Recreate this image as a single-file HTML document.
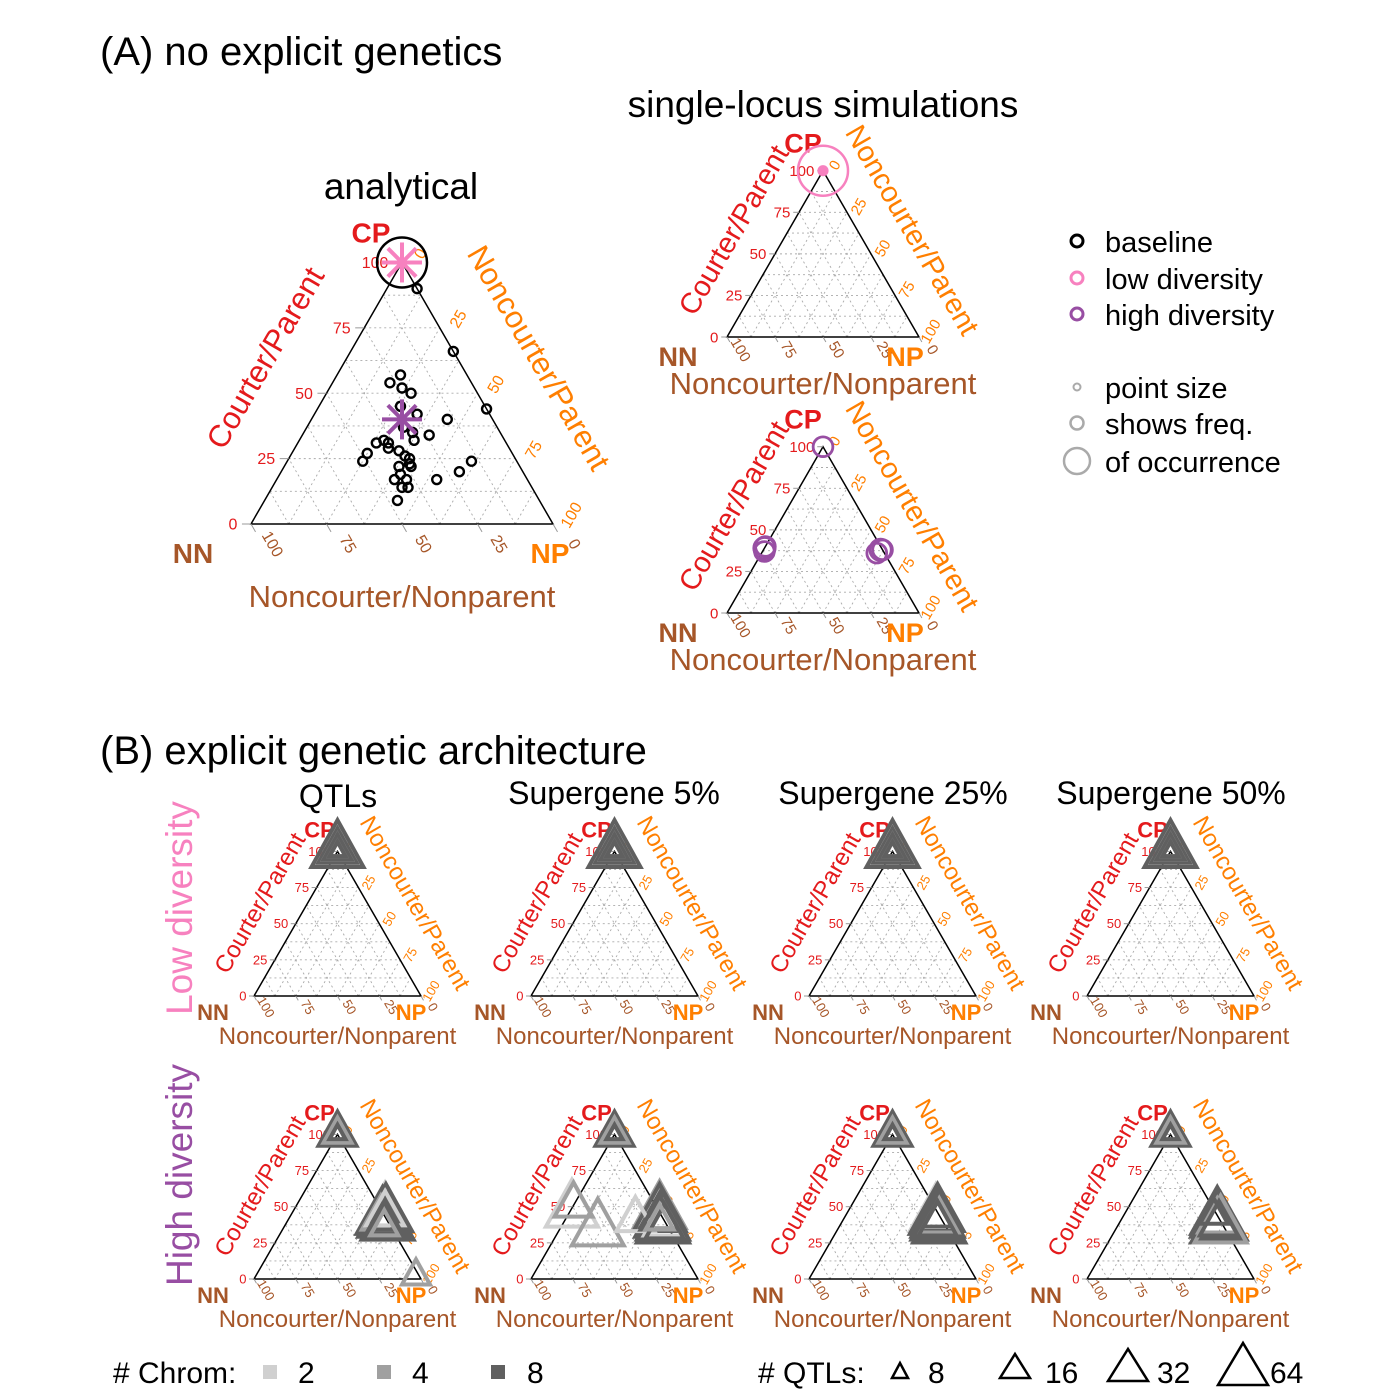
<!DOCTYPE html>
<html><head><meta charset="utf-8"><style>
html,body{margin:0;padding:0;background:#fff;}
svg{display:block;font-family:"Liberation Sans",Arial,sans-serif;}
</style></head><body>
<svg id="chart" width="1400" height="1400" viewBox="0 0 1400 1400">
<rect x="0" y="0" width="1400" height="1400" fill="#fff"/>
<text x="100" y="65" font-size="40">(A) no explicit genetics</text>
<text x="401" y="199" font-size="37" text-anchor="middle">analytical</text>
<text x="823" y="117" font-size="37" text-anchor="middle">single-locus simulations</text>
<text x="100" y="764" font-size="40">(B) explicit genetic architecture</text>
<text x="338" y="807" font-size="32" text-anchor="middle">QTLs</text>
<text x="614" y="804" font-size="32" text-anchor="middle">Supergene 5%</text>
<text x="893" y="804" font-size="32" text-anchor="middle">Supergene 25%</text>
<text x="1171" y="804" font-size="32" text-anchor="middle">Supergene 50%</text>
<text transform="translate(192,908) rotate(-90)" font-size="37" fill="#F781BF" text-anchor="middle">Low diversity</text>
<text transform="translate(192,1175) rotate(-90)" font-size="37" fill="#984EA3" text-anchor="middle">High diversity</text>

<g>
<circle cx="1077" cy="241" r="6" fill="none" stroke="#000" stroke-width="3"/>
<text x="1105" y="252" font-size="29">baseline</text>
<circle cx="1077" cy="278" r="6" fill="none" stroke="#F781BF" stroke-width="3"/>
<text x="1105" y="289" font-size="29">low diversity</text>
<circle cx="1077" cy="314" r="6" fill="none" stroke="#984EA3" stroke-width="3"/>
<text x="1105" y="325" font-size="29">high diversity</text>
<circle cx="1077" cy="387" r="3.5" fill="none" stroke="#aaa" stroke-width="2"/>
<text x="1105" y="398" font-size="29">point size</text>
<circle cx="1077" cy="423" r="6.5" fill="none" stroke="#aaa" stroke-width="2.5"/>
<text x="1105" y="434" font-size="29">shows freq.</text>
<circle cx="1077" cy="461" r="13" fill="none" stroke="#aaa" stroke-width="2.5"/>
<text x="1105" y="472" font-size="29">of occurrence</text>
</g>

<g>
<text x="113" y="1383" font-size="30"># Chrom:</text>
<rect x="263" y="1365" width="14" height="14" fill="#d0d0d0"/>
<text x="298" y="1383" font-size="30">2</text>
<rect x="377" y="1365" width="14" height="14" fill="#a0a0a0"/>
<text x="412" y="1383" font-size="30">4</text>
<rect x="491" y="1365" width="14" height="14" fill="#606060"/>
<text x="527" y="1383" font-size="30">8</text>
<text x="758" y="1383" font-size="30"># QTLs:</text>
<polygon points="892,1378 908,1378 900,1363" fill="none" stroke="#000" stroke-width="2.5"/>
<text x="928" y="1383" font-size="30">8</text>
<polygon points="1000,1378 1030,1378 1015,1354" fill="none" stroke="#000" stroke-width="2.5"/>
<text x="1045" y="1383" font-size="30">16</text>
<polygon points="1108,1381 1148,1381 1128,1349" fill="none" stroke="#000" stroke-width="2.5"/>
<text x="1157" y="1383" font-size="30">32</text>
<polygon points="1218,1385 1268,1385 1243,1343" fill="none" stroke="#000" stroke-width="2.5"/>
<text x="1270" y="1383" font-size="30">64</text>
</g>
</svg>
<script>
// ---- Data ----
const baseCP = [90,66,44,57,54,52,50,42,40,34,32,31,32,27,24,29,28,25,22,22,24,20,17,17,17,14,14,9,37,45,26,31,35,23,19];
const baseNP = [10,34,56,21,19,24,28,34,45,42,38,26,28,25,25,31,35,40,38,42,61,59,53,39,43,43,45,44,32,27,38,30,36,41,40];
const analyticalStarCP = [100, 40];
const analyticalStarNP = [0, 30];
const analyticalStarColor = ['#F781BF', '#984EA3'];
const lowCP = [100, 100]; const lowNP = [0, 0]; const lowFreq = [1, 0.03];
const highCP = [100, 39, 37, 40, 38, 36, 38]; const highNP = [0, 0, 1, 0, 61, 60, 62]; const highFreq = [0.3, 0.35, 0.3, 0.3, 0.35, 0.3, 0.3];
const bPanel = [], bCP = [], bNP = [], bChrom = [], bQTL = [];
function addB(p, arr){ arr.forEach(a=>{bPanel.push(p);bCP.push(a[0]);bNP.push(a[1]);bChrom.push(a[2]);bQTL.push(a[3]);}); }
const apexTop = [[100,0,8,64],[100,0,4,32],[100,0,8,32],[100,0,2,16],[100,0,8,16],[100,0,4,8],[100,0,8,8]];
const apexLow = [[100,0,8,32],[100,0,4,16],[100,0,8,8]];
[0,1,2,3].forEach(p=>addB(p, apexTop));
addB(4, apexLow.concat([[45,56,2,64],[44,57,8,64],[40,58,8,64],[38,61,8,64],[42,56,8,64],[42,55,4,32],[38,60,8,32],[45,56,2,32],[40,58,8,16],[36,60,4,16],[38,59,8,32],[2,96,4,16]]));
addB(5, apexLow.concat([[47,1,2,64],[51,0,4,32],[34,23,4,64],[41,42,2,32],[46,54,4,64],[44,55,8,64],[40,58,8,64],[38,60,8,64],[36,61,8,64],[38,60,2,32],[42,56,8,32],[36,62,8,32],[40,57,4,16]]));
addB(6, apexLow.concat([[44,54,2,64],[42,55,8,64],[40,57,8,64],[44,55,8,64],[36,60,8,64],[38,58,8,64],[40,58,4,32],[38,58,8,32],[42,56,8,16]]));
addB(7, apexLow.concat([[40,58,8,64],[42,57,8,64],[36,60,8,64],[38,61,8,64],[36,62,4,64],[40,58,4,32],[38,60,8,32],[44,54,8,16]]));
const tickVals = [0,25,50,75,100];

const RED='#E41A1C', ORA='#FF7F00', BRN='#A65628';
const svg = document.getElementById('chart');
const NS='http://www.w3.org/2000/svg';
function mk(tag, attrs, parent){ const e=document.createElementNS(NS,tag); for(const k in attrs) e.setAttribute(k,attrs[k]); (parent||svg).appendChild(e); return e; }

function ternary(cfg){
  const g = mk('g',{});
  
  
  const w=cfg.w, h=w*0.866, x0=cfg.x0, yb=cfg.yb;
  const P=(cp,np)=>[x0+(np/100+cp/200)*w, yb-cp/100*h];
  cfg.P=P; cfg.g=g; cfg.h=h;
  for(let v=12.5; v<100; v+=12.5){
    const seg=[[P(v,0),P(v,100-v)],[P(0,v),P(100-v,v)],[P(0,100-v),P(100-v,0)]];
    seg.forEach(s=>{ const l=mk('line',{x1:s[0][0],y1:s[0][1],x2:s[1][0],y2:s[1][1],stroke:'#aaa','stroke-width':0.9,'stroke-dasharray':'2,3'},g);
        });
  }
  const A=P(100,0), L=P(0,0), R=P(0,100);
  const tri=mk('polygon',{points:`${A} ${L} ${R}`,fill:'none',stroke:'#000','stroke-width':1.5},g);
   
  const fs=cfg.tfs;
  tickVals.forEach(v=>{
    let p=P(v,0);
    mk('line',{x1:p[0],y1:p[1],x2:p[0]-w*0.03,y2:p[1],stroke:'#999','stroke-width':1},g);
    let t=mk('text',{x:p[0]-w*0.045,y:p[1]+fs*0.35,'font-size':fs,fill:RED,'text-anchor':'end'},g); t.textContent=v;
     
    p=P(100-v,v);
    let tx=p[0]+w*0.06, ty=p[1]-w*0.03;
    t=mk('text',{x:tx,y:ty,'font-size':fs,fill:ORA,'text-anchor':'middle',transform:`rotate(-60 ${tx} ${ty})`,dy:fs*0.35},g); t.textContent=v;
     
    p=P(0,100-v);
    mk('line',{x1:p[0],y1:p[1],x2:p[0]+w*0.015,y2:p[1]+w*0.026,stroke:'#999','stroke-width':1},g);
    tx=p[0]+w*0.072; ty=p[1]+w*0.066;
    t=mk('text',{x:tx,y:ty,'font-size':fs,fill:BRN,'text-anchor':'middle',transform:`rotate(60 ${tx} ${ty})`,dy:fs*0.35},g); t.textContent=v;
     
  });
  const afs=cfg.afs;
  let m=P(50,0), ox=m[0]-0.866*w*cfg.off, oy=m[1]-0.5*w*cfg.off;
  let t=mk('text',{x:ox,y:oy,'font-size':afs,fill:RED,'text-anchor':'middle',transform:`rotate(-60 ${ox} ${oy})`,dy:afs*0.35},g); t.textContent='Courter/Parent';
   
  m=P(50,50); ox=m[0]+0.866*w*cfg.off; oy=m[1]-0.5*w*cfg.off;
  t=mk('text',{x:ox,y:oy,'font-size':afs,fill:ORA,'text-anchor':'middle',transform:`rotate(60 ${ox} ${oy})`,dy:afs*0.35},g); t.textContent='Noncourter/Parent';
   
  t=mk('text',{x:x0+w/2,y:yb+cfg.boff,'font-size':cfg.bfs||afs,fill:BRN,'text-anchor':'middle'},g); t.textContent='Noncourter/Nonparent';
   
  const vfs=cfg.vfs;
  t=mk('text',{x:A[0]+cfg.cp[0],y:A[1]+cfg.cp[1],'font-size':vfs,'font-weight':'bold',fill:RED,'text-anchor':'middle'},g); t.textContent='CP';
   
  t=mk('text',{x:L[0]+cfg.nn[0],y:L[1]+cfg.nn[1],'font-size':vfs,'font-weight':'bold',fill:BRN,'text-anchor':'middle'},g); t.textContent='NN';
   
  t=mk('text',{x:R[0]+cfg.np[0],y:R[1]+cfg.np[1],'font-size':vfs,'font-weight':'bold',fill:ORA,'text-anchor':'middle'},g); t.textContent='NP';
   
  return cfg;
}

const an = ternary({name:'analytical-ternary',x0:251,yb:524,w:302,tfs:16,afs:31,bfs:31,vfs:28,off:0.235,boff:83,cp:[-31,-20],nn:[-58,39],np:[-3,39]});
baseCP.forEach((c,i)=>{ const p=an.P(c,baseNP[i]);
  const e=mk('circle',{cx:p[0],cy:p[1],r:4.5,fill:'none',stroke:'#000','stroke-width':2.4},an.g);
    });
{ const p=an.P(100,0); const e=mk('circle',{cx:p[0],cy:p[1],r:25,fill:'none',stroke:'#000','stroke-width':2.5},an.g);
    }
analyticalStarCP.forEach((c,i)=>{ const p=an.P(c,analyticalStarNP[i]); const s=20;
  const st=mk('g',{stroke:analyticalStarColor[i],'stroke-width':4},an.g);
   
  [0,45,90,135].forEach(a=>{ const r=a*Math.PI/180; mk('line',{x1:p[0]-s*Math.cos(r),y1:p[1]-s*Math.sin(r),x2:p[0]+s*Math.cos(r),y2:p[1]+s*Math.sin(r)},st); });
});

const slCfg={x0:727,w:192,tfs:15,afs:29,bfs:31,vfs:27,off:0.25,boff:57,cp:[-20,-18],nn:[-49,29],np:[-14,29]};
const s1=ternary(Object.assign({},slCfg,{name:'single-locus-low',yb:337}));
const s2=ternary(Object.assign({},slCfg,{name:'single-locus-high',yb:613}));
lowCP.forEach((c,i)=>{ const p=s1.P(c,lowNP[i]); const r=Math.max(2.5,25*Math.sqrt(lowFreq[i]));
  const e=mk('circle',{cx:p[0],cy:p[1],r:r,fill:i?'#F781BF':'none',stroke:'#F781BF','stroke-width':2.5},s1.g);
    });
highCP.forEach((c,i)=>{ const p=s2.P(c,highNP[i]); const r=Math.max(2.5,18*Math.sqrt(highFreq[i]));
  const e=mk('circle',{cx:p[0],cy:p[1],r:r,fill:'none',stroke:'#984EA3','stroke-width':2.8},s2.g);
    });

const colX=[254,531,809,1087], rowY=[996,1279];
const chromColor={2:'#d0d0d0',4:'#a0a0a0',8:'#606060'};
const qtlSide={8:16,16:28,32:38,64:52};
const panels=[];
for(let r=0;r<2;r++) for(let c=0;c<4;c++){
  panels.push(ternary({name:`panel-${r?'high':'low'}-${['qtls','sg5','sg25','sg50'][c]}`,x0:colX[c],yb:rowY[r],w:167,tfs:13,afs:24,bfs:24,vfs:22,off:0.25,boff:48,cp:[-18,-14],nn:[-41,24],np:[-10,24]}));
}
const order=bCP.map((_,i)=>i).sort((a,b)=>bQTL[b]-bQTL[a]);
order.forEach(i=>{ const pn=panels[bPanel[i]]; const p=pn.P(bCP[i],bNP[i]); const s=qtlSide[bQTL[i]]; const h=s*0.9;
  const pts=`${p[0]-s/2},${p[1]+h/3} ${p[0]+s/2},${p[1]+h/3} ${p[0]},${p[1]-2*h/3}`;
  const e=mk('polygon',{points:pts,fill:'none',stroke:chromColor[bChrom[i]],'stroke-width':4},pn.g);
    });
</script>
</body></html>
